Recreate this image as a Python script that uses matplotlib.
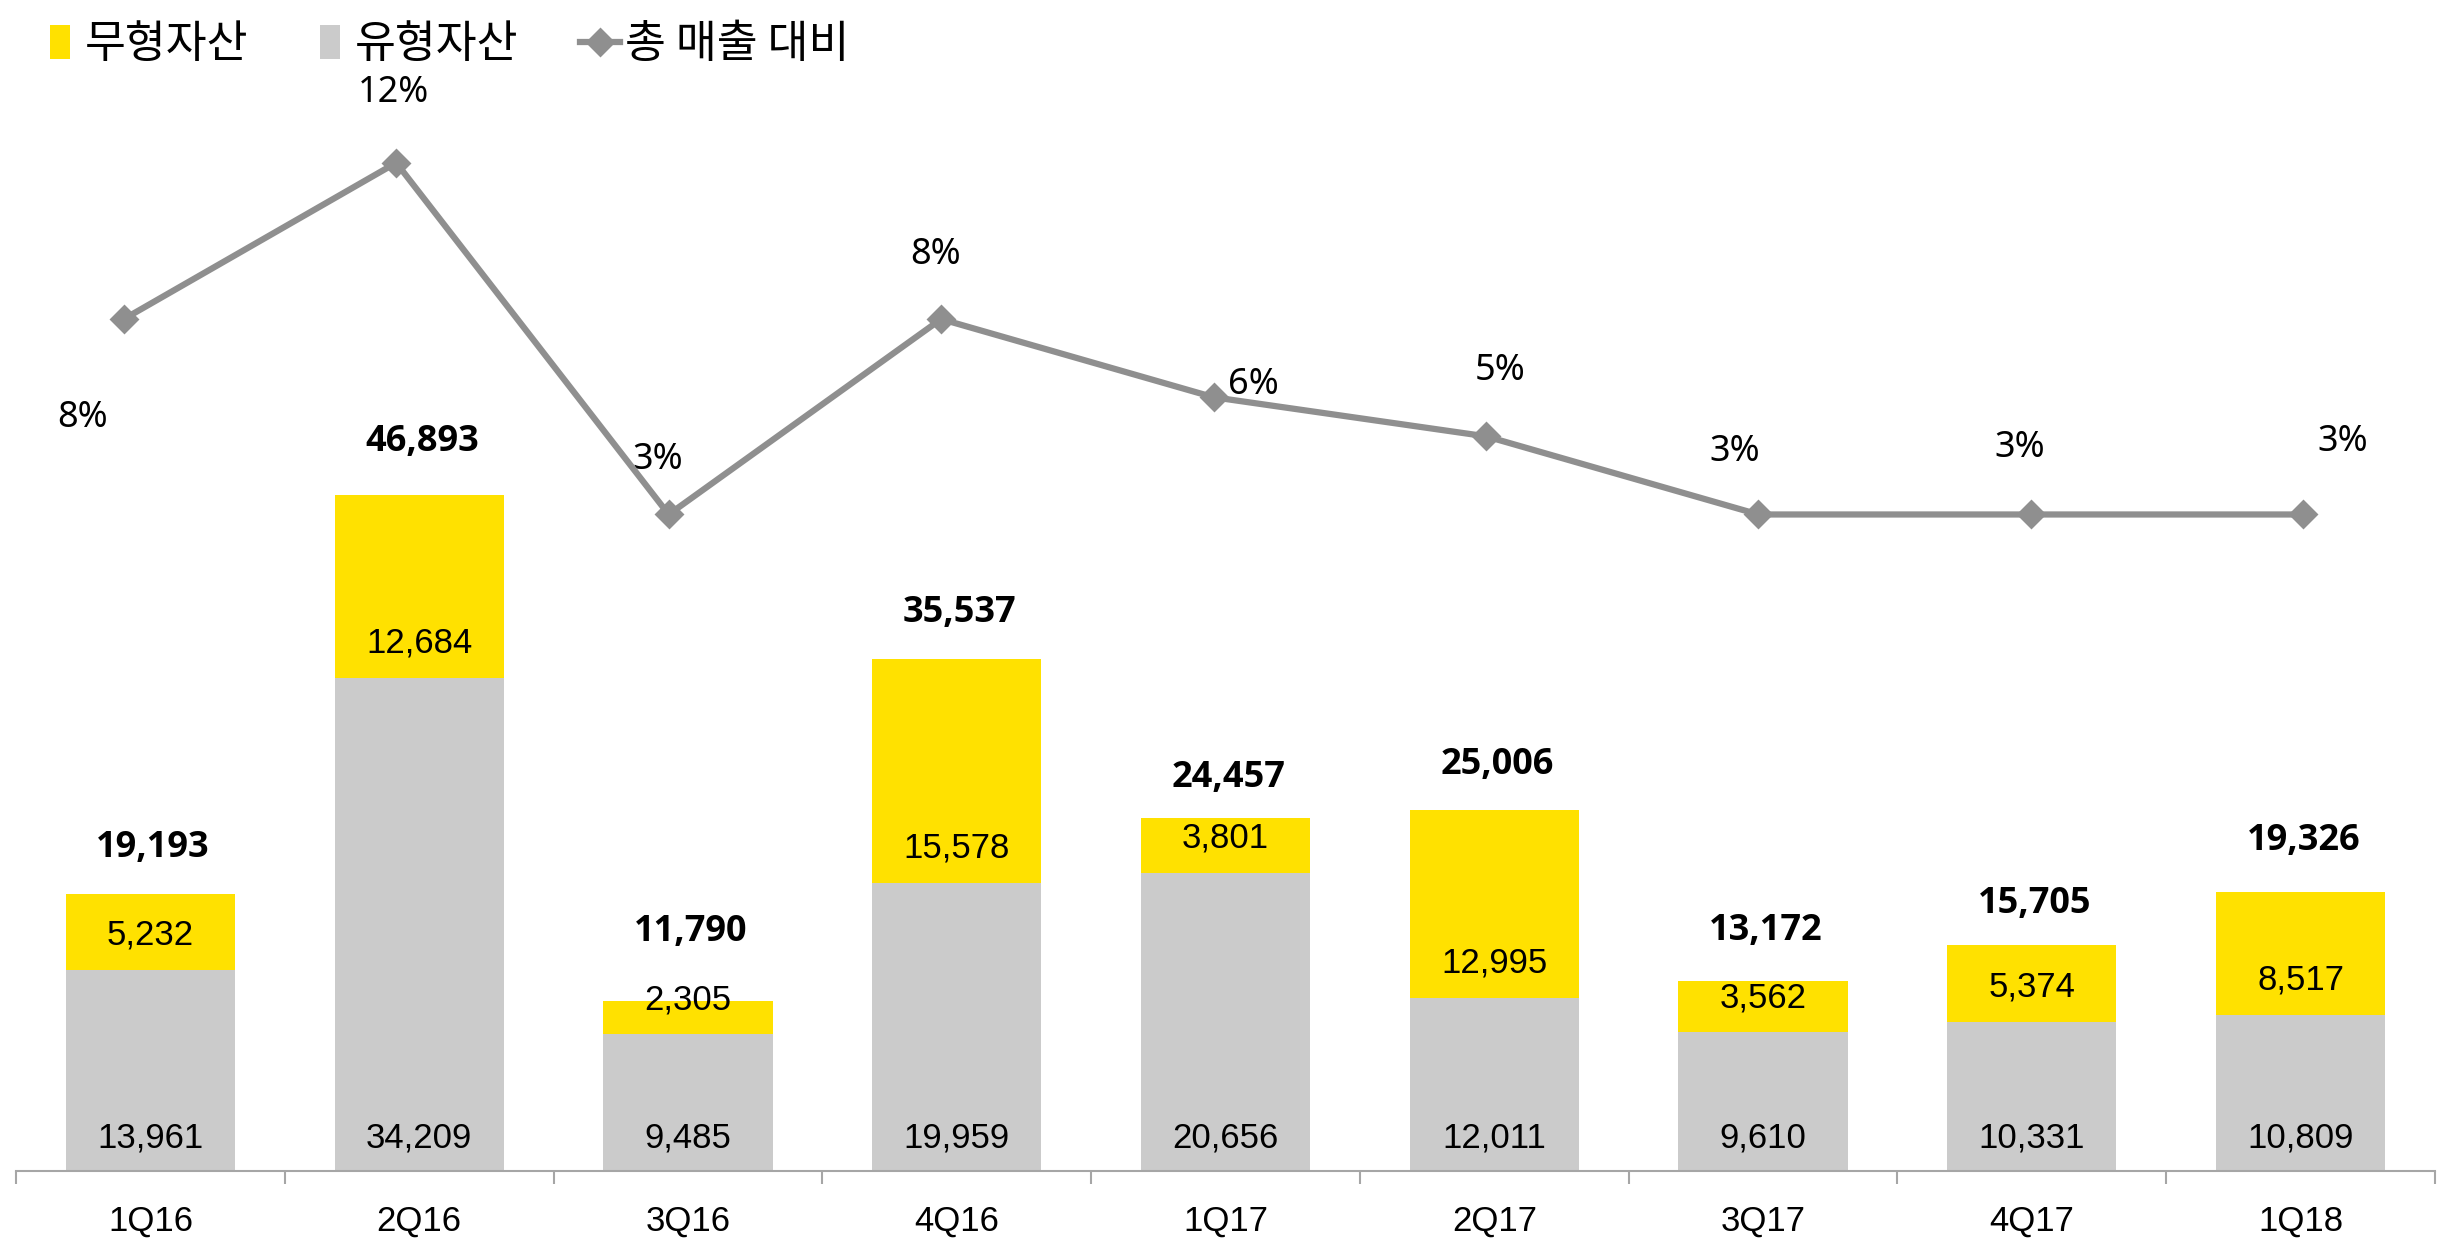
import matplotlib
matplotlib.use("Agg")
import matplotlib.pyplot as plt
from matplotlib.lines import Line2D

# data
quarters = ["1Q16", "2Q16", "3Q16", "4Q16", "1Q17", "2Q17", "3Q17", "4Q17", "1Q18"]
tangible = [13961, 34209, 9485, 19959, 20656, 12011, 9610, 10331, 10809]     # 유형자산
intangible = [5232, 12684, 2305, 15578, 3801, 12995, 3562, 5374, 8517]       # 무형자산
ratio_pct = [8, 12, 3, 8, 6, 5, 3, 3, 3]                                      # 총 매출 대비

totals = [t + i for t, i in zip(tangible, intangible)]

YELLOW = "#FFE100"
GRAY = "#CBCBCB"
LINE = "#8F8F8F"

# label placement (points)
pct_offsets = [(-30, -71), (-2, 50), (-8, 39), (-4, 46), (29, 9),
               (10, 47), (-17, 45), (-8, 48), (28, 52)]
total_offsets = [33, 38, 50, 33, 29, 33, 36, 29, 37]

fig = plt.figure(figsize=(24.54, 12.39), dpi=100)
pos = [16 / 2454, 1 - 1171 / 1239, (2435 - 16) / 2454, (1171 - 60) / 1239]
ax = fig.add_axes(pos)

x = list(range(len(quarters)))
ax.bar(x, tangible, width=0.63, color=GRAY, zorder=2)
ax.bar(x, intangible, width=0.63, bottom=tangible, color=YELLOW, zorder=2)
ax.set_xlim(-0.5, 8.5)
ax.set_ylim(0, 77050)

for i in x:
    ax.annotate(f"{tangible[i]:,}", (i, 0), xytext=(0, 24), textcoords="offset points",
                ha="center", va="center", fontsize=25, family="Liberation Sans", zorder=3)
    ax.annotate(f"{intangible[i]:,}", (i, tangible[i]), xytext=(0, 25), textcoords="offset points",
                ha="center", va="center", fontsize=25, family="Liberation Sans", zorder=3)
    ax.annotate(f"{totals[i]:,}", (i, totals[i]), xytext=(2, total_offsets[i]), textcoords="offset points",
                ha="center", va="center", fontsize=26, fontweight="bold", family="Open Sans", zorder=3)

for s in ["top", "left", "right"]:
    ax.spines[s].set_visible(False)
ax.spines["bottom"].set_color("#A6A6A6")
ax.spines["bottom"].set_linewidth(1.5)
ax.set_yticks([])
ax.set_xticks(x)
ax.set_xticklabels(quarters, fontsize=25, family="Liberation Sans")
ax.set_xticks([i - 0.5 for i in range(len(quarters) + 1)], minor=True)
ax.tick_params(axis="x", which="major", length=0, pad=24)
ax.tick_params(axis="x", which="minor", length=9, width=1.5, color="#A6A6A6", direction="out")

# line sits on its own slightly wider x scale, like the original
lax = fig.add_axes(pos, frameon=False)
lax.set_xlim(-0.3956, 8.483)
lax.set_ylim(-13.8, 14.63)
lax.set_xticks([])
lax.set_yticks([])
lax.plot(x, ratio_pct, color=LINE, lw=4.5, marker="D", markersize=13, mew=2,
         mfc=LINE, mec=LINE, solid_joinstyle="round", zorder=4)
for i in x:
    lax.annotate(f"{ratio_pct[i]}%", (i, ratio_pct[i]), xytext=pct_offsets[i], textcoords="offset points",
                 ha="center", va="center", fontsize=26, family="Noto Sans")

rect = [(-0.3, -0.5), (0.3, -0.5), (0.3, 0.5), (-0.3, 0.5), (-0.3, -0.5)]
handles = [
    Line2D([], [], ls="none", marker=rect, markersize=24, color=YELLOW, mew=0),
    Line2D([], [], ls="none", marker=rect, markersize=24, color=GRAY, mew=0),
    Line2D([], [], color=LINE, lw=4.5, marker="D", markersize=13, mew=2, solid_joinstyle="round"),
]
fig.legend(handles, ["무형자산", "유형자산", "총 매출 대비"], loc="upper left",
           bbox_to_anchor=(0.0, 1.015), ncol=3, frameon=False, handlelength=0.9,
           handletextpad=0.1, columnspacing=1.4, prop={"family": "Noto Sans CJK KR", "size": 32})

fig.savefig("out.png", dpi=100)
